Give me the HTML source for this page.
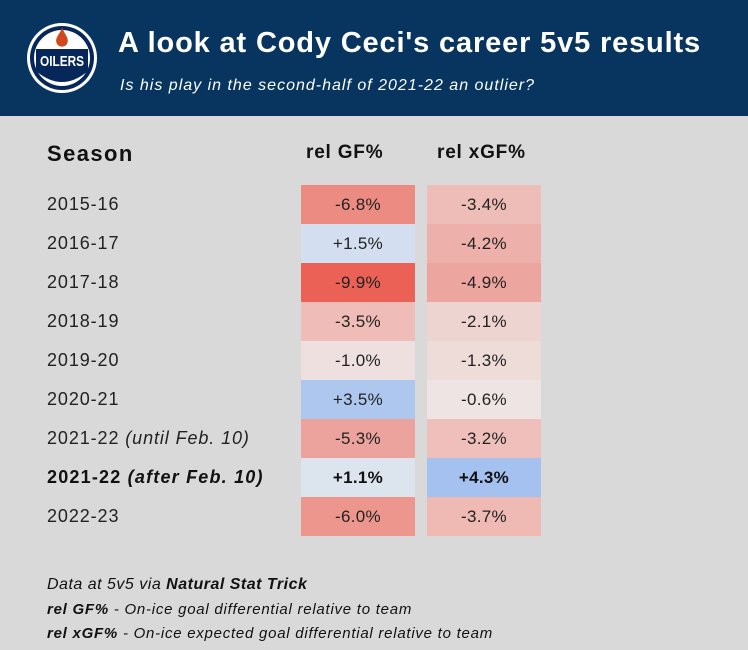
<!DOCTYPE html>
<html><head><style>
body{margin:0;width:748px;height:650px;background:#d9d9d9;font-family:"Liberation Sans",sans-serif;position:relative;overflow:hidden;color:#111}
.hdr{position:absolute;left:0;top:0;width:748px;height:116px;background:#07355f}
.t{position:absolute;left:118px;top:27px;color:#fff;font-weight:bold;font-size:29px;letter-spacing:0.85px;white-space:nowrap}
.s{position:absolute;left:120px;top:77px;color:#fff;font-style:italic;font-size:16px;letter-spacing:1.0px;white-space:nowrap}
.a{position:absolute;white-space:nowrap}
.c{position:absolute;width:114px;height:39px;line-height:39px;text-align:center;font-size:17px;color:#222;letter-spacing:0.3px}
.l{position:absolute;left:47px;font-size:18px;line-height:39px;color:#222;letter-spacing:0.9px;white-space:nowrap}
.f{position:absolute;left:47px;font-size:15px;font-style:italic;color:#111;letter-spacing:0.75px;white-space:nowrap}
</style></head><body>
<div class="hdr"></div>
<svg style="position:absolute;left:26px;top:21px" width="72" height="74" viewBox="0 0 72 74">
<circle cx="36" cy="37" r="35" fill="#fff"/><circle cx="36" cy="37" r="32" fill="#07275a"/><circle cx="36" cy="37" r="28" fill="#fff"/>
<path d="M10 28 H62 V50 Q36 72 10 50Z" fill="#07275a"/>
<path d="M36 6 C38 13 44 17 41 23 A6 6 0 0 1 31 23 C28 17 34 13 36 7Z" fill="#d0491e"/>
<text x="36" y="45" font-size="15" font-weight="bold" fill="#fff" text-anchor="middle" textLength="44" lengthAdjust="spacingAndGlyphs">OILERS</text>
</svg>
<div class="t">A look at Cody Ceci's career 5v5 results</div>
<div class="s">Is his play in the second-half of 2021-22 an outlier?</div>
<div class="a" style="left:47px;top:141px;font-size:22px;font-weight:bold;letter-spacing:1.4px">Season</div>
<div class="a" style="left:306px;top:142px;font-size:19px;font-weight:bold;letter-spacing:0.8px">rel GF%</div>
<div class="a" style="left:437px;top:142px;font-size:19px;font-weight:bold;letter-spacing:0.8px">rel xGF%</div>

<div class="l" style="top:185px">2015-16</div>
<div class="l" style="top:224px">2016-17</div>
<div class="l" style="top:263px">2017-18</div>
<div class="l" style="top:302px">2018-19</div>
<div class="l" style="top:341px">2019-20</div>
<div class="l" style="top:380px">2020-21</div>
<div class="l" style="top:419px">2021-22 <i>(until Feb. 10)</i></div>
<div class="l" style="top:458px;font-weight:bold;color:#111;letter-spacing:1.2px">2021-22 <i>(after Feb. 10)</i></div>
<div class="l" style="top:497px">2022-23</div>

<div class="c" style="left:301px;top:185px;background:#ec8b82">-6.8%</div>
<div class="c" style="left:301px;top:224px;background:#d3dff0">+1.5%</div>
<div class="c" style="left:301px;top:263px;background:#eb6155">-9.9%</div>
<div class="c" style="left:301px;top:302px;background:#efbcb7">-3.5%</div>
<div class="c" style="left:301px;top:341px;background:#eee0de">-1.0%</div>
<div class="c" style="left:301px;top:380px;background:#aec7ef">+3.5%</div>
<div class="c" style="left:301px;top:419px;background:#eda39d">-5.3%</div>
<div class="c" style="left:301px;top:458px;background:#dce4ee;font-weight:bold;color:#111">+1.1%</div>
<div class="c" style="left:301px;top:497px;background:#ed968e">-6.0%</div>

<div class="c" style="left:427px;top:185px;background:#efbdb8">-3.4%</div>
<div class="c" style="left:427px;top:224px;background:#eeb0aa">-4.2%</div>
<div class="c" style="left:427px;top:263px;background:#eda69f">-4.9%</div>
<div class="c" style="left:427px;top:302px;background:#eed4d1">-2.1%</div>
<div class="c" style="left:427px;top:341px;background:#eedcd9">-1.3%</div>
<div class="c" style="left:427px;top:380px;background:#eee4e3">-0.6%</div>
<div class="c" style="left:427px;top:419px;background:#efc0bb">-3.2%</div>
<div class="c" style="left:427px;top:458px;background:#a5c1f0;font-weight:bold;color:#111">+4.3%</div>
<div class="c" style="left:427px;top:497px;background:#efb9b4">-3.7%</div>

<div class="f" style="top:576px;font-size:16px;letter-spacing:0.5px">Data at 5v5 via <b>Natural Stat Trick</b></div>
<div class="f" style="top:601px"><b>rel GF%</b> - On-ice goal differential relative to team</div>
<div class="f" style="top:625px"><b>rel xGF%</b> - On-ice expected goal differential relative to team</div>
</body></html>
